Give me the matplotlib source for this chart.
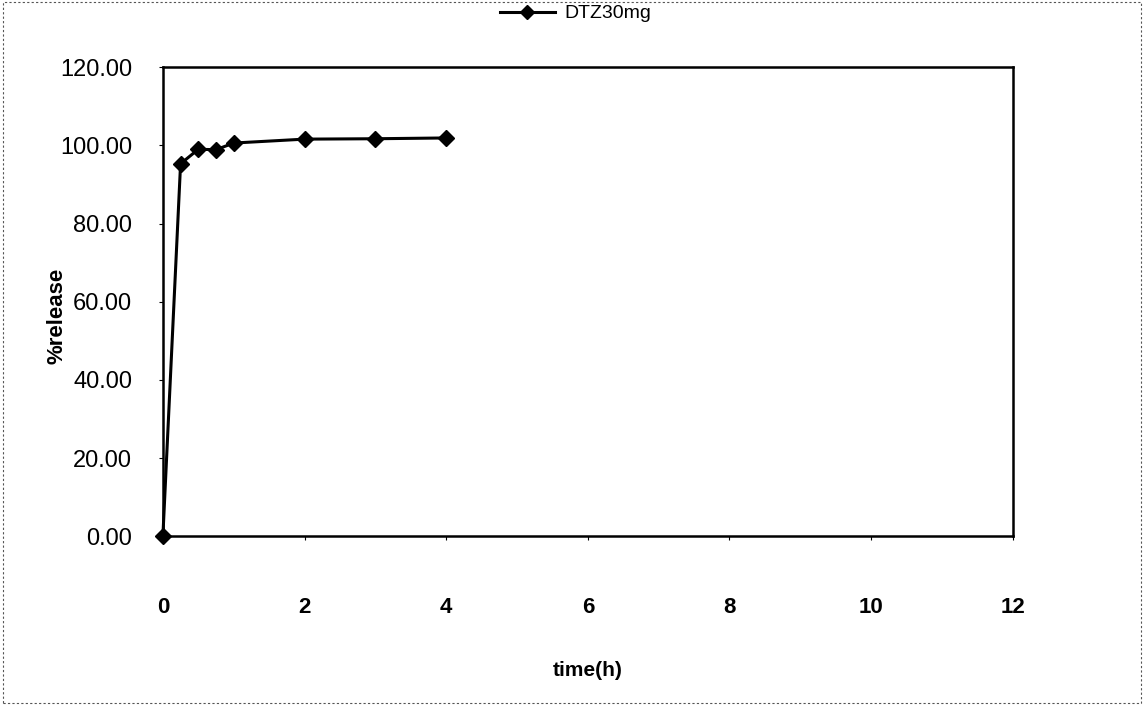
import matplotlib
matplotlib.use("Agg")
import matplotlib.pyplot as plt
from matplotlib.patches import Rectangle

time_h = [0, 0.25, 0.5, 0.75, 1, 2, 3, 4]
release = [0.00, 95.3, 99.0, 98.9, 100.6, 101.6, 101.7, 101.9]
series_name = "DTZ30mg"
x_ticks = [0, 2, 4, 6, 8, 10, 12]
y_ticks = [0, 20, 40, 60, 80, 100, 120]

plt.rcParams['font.family'] = ['Liberation Sans', 'DejaVu Sans']

fig = plt.figure(figsize=(11.47, 7.15), dpi=100)
ax = fig.add_axes([0.142, 0.250, 0.741, 0.656])

line, = ax.plot(time_h, release, color="black", lw=2.2, marker="D", ms=8,
                markerfacecolor="black", markeredgecolor="black",
                label=series_name, clip_on=False, zorder=5)

ax.set_xlim(0, 12)
ax.set_ylim(0, 120)
ax.set_xticks(x_ticks)
ax.set_yticks(y_ticks)
ax.set_yticklabels(["%.2f" % v for v in y_ticks])
ax.tick_params(axis="x", direction="out", length=3, pad=41, labelsize=16)
ax.tick_params(axis="y", direction="out", length=3, pad=19, labelsize=17)
for lab in ax.get_xticklabels():
    lab.set_fontweight("bold")
for s in ax.spines.values():
    s.set_linewidth(1.8)

ax.set_xlabel("time(h)", fontsize=15, fontweight="bold")
ax.xaxis.set_label_coords(0.5, -0.265)
ax.set_ylabel("%release", fontsize=16, fontweight="bold")
ax.yaxis.set_label_coords(-0.112, 0.47)

fig.legend(handles=[line], loc="center", bbox_to_anchor=(0.502, 0.981),
           frameon=False, fontsize=14, handlelength=2.8, handletextpad=0.5,
           markerscale=0.9)

fig.patches.append(Rectangle((0.003, 0.017), 0.992, 0.98, transform=fig.transFigure,
                             fill=False, lw=0.8, ls=(0, (2, 2)), edgecolor="#555555"))

fig.savefig("out.png", dpi=100)
